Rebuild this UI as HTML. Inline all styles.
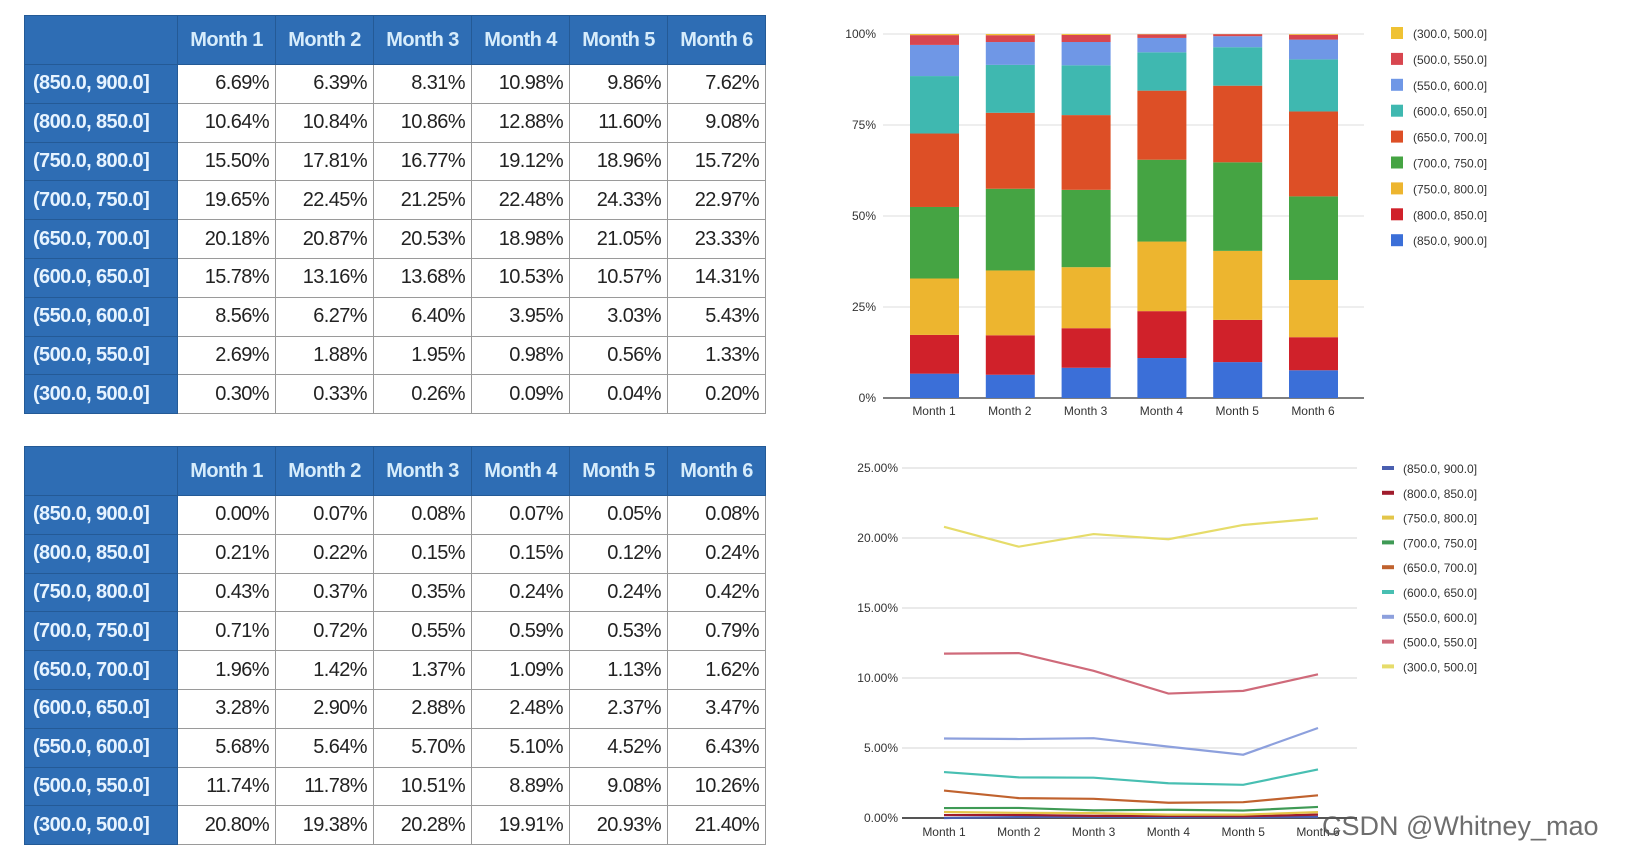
<!DOCTYPE html>
<html><head><meta charset="utf-8">
<style>
body{margin:0;width:1625px;height:855px;background:#fff;overflow:hidden;position:relative;font-family:"Liberation Sans",sans-serif}
table.t{position:absolute;left:24px;border-collapse:collapse;table-layout:fixed}
table.t td,table.t th{border:1.5px solid #9a9a9a;height:37.8px;padding:0 6px;font-size:20px;text-align:right;white-space:nowrap;letter-spacing:-0.6px;color:#222}
table.t th{background:#2e6db4;color:#d6ecfb;font-weight:bold;text-align:center;border-color:#245a96;height:48px}
table.t td.l{background:#2e6db4;color:#e6f3ff;font-weight:bold;text-align:left;border-color:#245a96;padding-left:8px}
svg text{font-family:"Liberation Sans",sans-serif}
</style></head><body>
<table class="t" id="t1" style="top:15px"></table>
<table class="t" id="t2" style="top:446px"></table>
<svg id="bar" width="1625" height="855" style="position:absolute;left:0;top:0"></svg>
<div style="position:absolute;left:1322px;top:811px;font-size:27px;color:#555;opacity:.85">CSDN @Whitney_mao</div>
<script>
const months=["Month 1","Month 2","Month 3","Month 4","Month 5","Month 6"];
const bins=["(850.0, 900.0]","(800.0, 850.0]","(750.0, 800.0]","(700.0, 750.0]","(650.0, 700.0]","(600.0, 650.0]","(550.0, 600.0]","(500.0, 550.0]","(300.0, 500.0]"];
const topVals=[[6.69,6.39,8.31,10.98,9.86,7.62],[10.64,10.84,10.86,12.88,11.60,9.08],[15.50,17.81,16.77,19.12,18.96,15.72],[19.65,22.45,21.25,22.48,24.33,22.97],[20.18,20.87,20.53,18.98,21.05,23.33],[15.78,13.16,13.68,10.53,10.57,14.31],[8.56,6.27,6.40,3.95,3.03,5.43],[2.69,1.88,1.95,0.98,0.56,1.33],[0.30,0.33,0.26,0.09,0.04,0.20]];
const botVals=[[0.00,0.07,0.08,0.07,0.05,0.08],[0.21,0.22,0.15,0.15,0.12,0.24],[0.43,0.37,0.35,0.24,0.24,0.42],[0.71,0.72,0.55,0.59,0.53,0.79],[1.96,1.42,1.37,1.09,1.13,1.62],[3.28,2.90,2.88,2.48,2.37,3.47],[5.68,5.64,5.70,5.10,4.52,6.43],[11.74,11.78,10.51,8.89,9.08,10.26],[20.80,19.38,20.28,19.91,20.93,21.40]];
const barColors=["#3b6fd8","#d0212a","#edb52f","#45a443","#dd4f26","#3fb8b0","#6f97e6","#d8464f","#efc233"];
const lineColors=["#4a5fb0","#a01c2c","#e3c64a","#3f9a55","#c0622e","#48bfb2","#8da0dd","#cf6a7a","#e6dc6a"];
const yTicksBar=[0,25,50,75,100];
const yTicksLine=[0,5,10,15,20,25];

function fillTable(id,vals){
  const t=document.getElementById(id);
  let h='<colgroup><col style="width:153px">'+months.map(()=>'<col style="width:98px">').join('')+'</colgroup>';
  h+='<tr><th></th>'+months.map(m=>'<th>'+m+'</th>').join('')+'</tr>';
  bins.forEach((b,i)=>{h+='<tr><td class="l">'+b+'</td>'+vals[i].map(v=>'<td>'+v.toFixed(2)+'%</td>').join('')+'</tr>';});
  t.innerHTML=h;
}
fillTable('t1',topVals);fillTable('t2',botVals);

const NS="http://www.w3.org/2000/svg";
const svg=document.getElementById('bar');
function el(tag,a,txt){const e=document.createElementNS(NS,tag);for(const k in a)e.setAttribute(k,a[k]);if(txt!==undefined)e.textContent=txt;svg.appendChild(e);return e;}

// stacked bar chart
const bx0=883,bx1=1364,by0=398,by1=34;
const bxc=i=>934+(1313-934)*i/5;
const by=v=>by0-(by0-by1)*v/100;
yTicksBar.forEach(t=>{
  const g=el('line',{x1:bx0,x2:bx1,y1:by(t),y2:by(t),stroke:t?'#ddd':'#555','stroke-width':t?1:1.5});
  
  const tx=el('text',{x:876,y:by(t)+4,'font-size':12,'text-anchor':'end',fill:'#333'},t+'%');
  
});
months.forEach((m,i)=>{
  let acc=0;
  bins.forEach((b,s)=>{
    const v=topVals[s][i];
    const r=el('rect',{x:bxc(i)-24,y:by(acc+v),width:49,height:by(acc)-by(acc+v),fill:barColors[s]});
    
    acc+=v;
  });
  const tx=el('text',{x:bxc(i),y:415,'font-size':12,'text-anchor':'middle',fill:'#333'},m);
  
});
for(let k=0;k<9;k++){
  const s=8-k;const y=33+k*25.9;
  const r=el('rect',{x:1391,y:y-6,width:12,height:12,fill:barColors[s]});
  
  const tx=el('text',{x:1413,y:y+5,'font-size':12,fill:'#333'},bins[s]);
  
}

// line chart
const lx0=902,lx1=1357,ly0=818,ly1=468;
const lx=i=>944+(1318-944)*i/5;
const ly=v=>ly0-(ly0-ly1)*v/25;
yTicksLine.forEach(t=>{
  const g=el('line',{x1:lx0,x2:lx1,y1:ly(t),y2:ly(t),stroke:t?'#ddd':'#555','stroke-width':t?1.2:2});
  
  const tx=el('text',{x:898,y:ly(t)+4,'font-size':12,'text-anchor':'end',fill:'#333'},t.toFixed(2)+'%');
  
});
bins.forEach((b,s)=>{
  const p=el('polyline',{points:botVals[s].map((v,i)=>lx(i)+','+ly(v)).join(' '),fill:'none',stroke:lineColors[s],'stroke-width':2.2});
  
});
months.forEach((m,i)=>{
  const tx=el('text',{x:lx(i),y:836,'font-size':12,'text-anchor':'middle',fill:'#333'},m);
  
});
bins.forEach((b,s)=>{
  const y=468+s*24.8;
  const r=el('rect',{x:1382,y:y-2,width:12,height:4,fill:lineColors[s]});
  
  const tx=el('text',{x:1403,y:y+5,'font-size':12,fill:'#333'},b);
  
});
</script>
</body></html>
